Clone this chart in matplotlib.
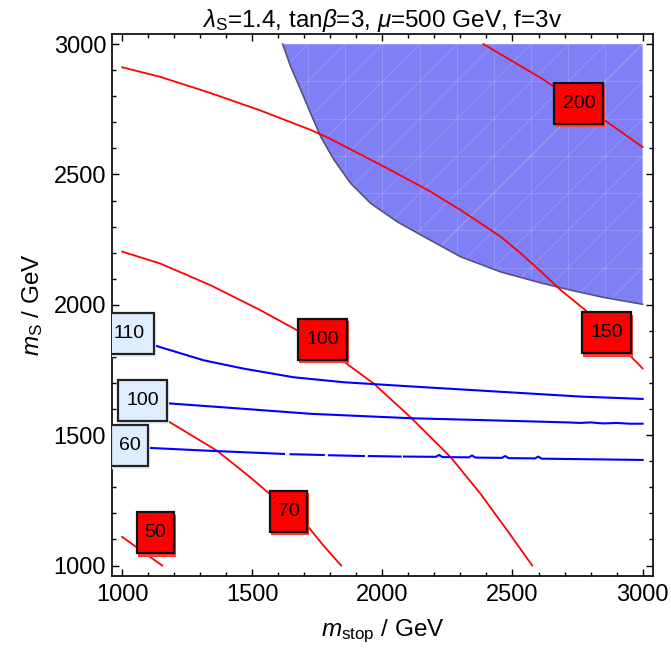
import numpy as np
import matplotlib
matplotlib.use("Agg")
import matplotlib.pyplot as plt
from matplotlib.patches import Rectangle, Polygon
from matplotlib.transforms import ScaledTranslation

plt.rcParams['font.family'] = ['Liberation Sans', 'DejaVu Sans']
plt.rcParams['mathtext.fontset'] = 'custom'
plt.rcParams['mathtext.rm'] = 'Liberation Sans'
plt.rcParams['mathtext.it'] = 'Liberation Sans:italic'
plt.rcParams['mathtext.bf'] = 'Liberation Sans:bold'

# excluded region (upper right), boundary
region_x = [1617, 1647, 1686, 1724, 1763, 1814, 1878, 1955, 2058, 2160, 2301, 2455, 2609, 2724, 2852, 3000]
region_y = [3000, 2915, 2825, 2735, 2645, 2556, 2466, 2389, 2318, 2261, 2184, 2126, 2084, 2056, 2028, 2002]

# red contours
red200_x = [2388, 2532, 2609, 2851, 3000]
red200_y = [3000, 2915, 2870, 2710, 2605]
red150_x = [1000, 1147, 1340, 1532, 1724, 1801, 2006, 2180, 2301, 2455, 2532, 2609, 2686, 2782, 3000]
red150_y = [2911, 2874, 2812, 2745, 2671, 2636, 2530, 2437, 2363, 2261, 2197, 2128, 2056, 1978, 1756]
red100_x = [1000, 1147, 1340, 1532, 1673, 1863, 1968, 2109, 2263, 2378, 2481, 2576]
red100_y = [2204, 2158, 2075, 1979, 1902, 1774, 1697, 1568, 1415, 1274, 1133, 1000]
red70_x = [1000, 1173, 1365, 1493, 1718, 1775, 1842]
red70_y = [1638, 1556, 1440, 1338, 1145, 1075, 1000]
red50_x = [1000, 1154]
red50_y = [1110, 1000]

# blue contours
blue110_x = [1132, 1314, 1468, 1660, 1852, 2109, 2378, 2763, 3000]
blue110_y = [1842, 1787, 1755, 1722, 1703, 1687, 1671, 1648, 1639]
blue100_x = [1179, 1468, 1724, 2109, 2378, 2711, 2760, 2800, 2850, 2900, 2950, 3000]
blue100_y = [1622, 1601, 1582, 1565, 1558, 1549, 1547, 1549, 1545, 1547, 1544, 1544]
blue60_x = [1109, 1340, 1622, np.nan, 1647, 1775, np.nan, 1795, 1929, np.nan, 1948, 2070, np.nan,
            2083, 2205, 2218, 2231, 2332, 2345, 2358, 2459, 2472, 2485, 2586, 2599, 2612, 3000]
blue60_y = [1451, 1440, 1428, np.nan, 1427, 1424, np.nan, 1423, 1420, np.nan, 1420, 1418, np.nan,
            1418, 1417, 1424, 1416, 1415, 1422, 1414, 1413, 1420, 1412, 1411, 1418, 1410, 1405]

# contour labels
red_lab = ["200", "150", "100", "70", "50"]
red_lab_x = [2755, 2861, 1770, 1639, 1127]
red_lab_y = [2773, 1893, 1867, 1209, 1125]
blue_lab = ["110", "100", "60"]
blue_lab_x = [1027, 1078, 1028]
blue_lab_y = [1890, 1634, 1461]

fig = plt.figure(figsize=(6.71, 6.49), dpi=100)
ax = fig.add_axes([0.1665, 0.1125, 0.8067, 0.8357])

px = np.array(region_x + [3000])
py = np.array(region_y + [3000])
reg = Polygon(np.column_stack([px, py]), closed=True, fc='#8080f6', ec='none', zorder=1)
ax.add_patch(reg)
# faint mesh inside the region
grid = np.linspace(1000, 3000, 15)
for g in grid:
    for ln in (ax.plot([g, g], [1000, 3000], color='white', lw=0.6, alpha=0.18, zorder=1.5),
               ax.plot([1000, 3000], [g, g], color='white', lw=0.6, alpha=0.18, zorder=1.5),
               ax.plot([g, g + 2000], [1000, 3000], color='white', lw=0.6, alpha=0.18, zorder=1.5),
               ax.plot([1000, 3000], [g, g + 2000], color='white', lw=0.6, alpha=0.18, zorder=1.5)):
        ln[0].set_clip_path(reg)
ax.plot(region_x, region_y, color='#555570', lw=1.2, zorder=2)

for xs, ys in [(red200_x, red200_y), (red150_x, red150_y), (red100_x, red100_y),
               (red70_x, red70_y), (red50_x, red50_y)]:
    ax.plot(xs, ys, color='red', lw=1.3, zorder=3)
for xs, ys in [(blue110_x, blue110_y), (blue100_x, blue100_y), (blue60_x, blue60_y)]:
    ax.plot(xs, ys, color='#0000ff', lw=1.5, zorder=3)

def label(x, y, s, face, edge, shade):
    w = (13 + 12 * len(s)) / 100
    h = 41 / 100
    at = fig.dpi_scale_trans + ScaledTranslation(x, y, ax.transData)
    ax.add_patch(Rectangle((-w / 2 + 0.01, -h / 2 - 0.035), w + 0.01, h + 0.01, transform=at,
                           fc=shade, ec='none', zorder=4))
    ax.add_patch(Rectangle((-w / 2, -h / 2), w, h, transform=at,
                           fc=face, ec=edge, lw=1.6, zorder=5))
    ax.text(x, y, s, fontsize=14, ha='center', va='center', color='black', zorder=6)

for s, x, y in zip(red_lab, red_lab_x, red_lab_y):
    label(x, y, s, '#ff0000', '#111111', '#ff3a3a')
for s, x, y in zip(blue_lab, blue_lab_x, blue_lab_y):
    label(x, y, s, '#deedff', '#222222', '#e4efff')

ax.set_xlim(960, 3040)
ax.set_ylim(960, 3040)
ax.set_xticks([1000, 1500, 2000, 2500, 3000])
ax.set_yticks([1000, 1500, 2000, 2500, 3000])
ax.set_xticks(np.arange(1000, 3001, 100), minor=True)
ax.set_yticks(np.arange(1000, 3001, 100), minor=True)
ax.tick_params(which='both', direction='in', top=True, right=True, labelsize=17, width=1.0)
ax.tick_params(which='major', length=5)
ax.tick_params(which='minor', length=3)
ax.tick_params(axis='x', pad=6)
ax.tick_params(axis='y', pad=4)
for sp in ax.spines.values():
    sp.set_linewidth(1.2)

ax.set_title(r"$\lambda_\mathrm{S}$=1.4, tan$\beta$=3, $\mu$=500 GeV, f=3v", fontsize=17.5, pad=5)
ax.set_xlabel(r"$m_\mathrm{stop}$ / GeV", fontsize=17.5, labelpad=8)
ax.set_ylabel(r"$m_\mathrm{S}$ / GeV", fontsize=17.5, labelpad=6)

fig.savefig("out.png", dpi=100)
